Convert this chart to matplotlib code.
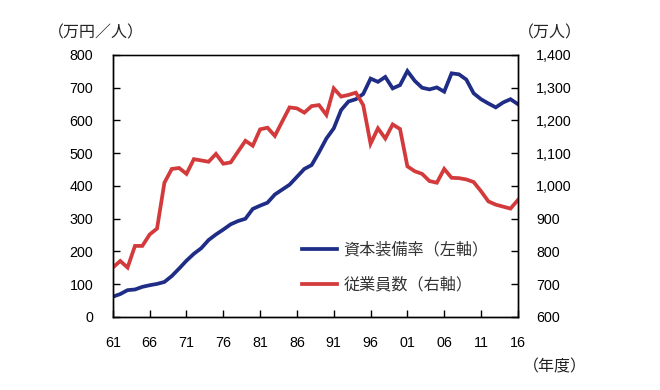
import matplotlib
matplotlib.use("Agg")
import matplotlib.pyplot as plt
from matplotlib.ticker import FixedLocator

plt.rcParams['font.family'] = ['Liberation Sans', 'Noto Sans CJK JP', 'DejaVu Sans']

years = list(range(1961, 2017))
capital_ratio = [62, 70, 82, 84, 92, 97, 101, 107, 125, 148,
                 172, 193, 210, 235, 252, 267, 283, 293, 300, 330,
                 340, 349, 374, 389, 404, 428, 452, 464, 503, 545,
                 576, 632, 658, 665, 681, 728, 718, 733, 698, 708,
                 751, 721, 700, 695, 701, 688, 744, 741, 725, 683,
                 665, 652, 640, 655, 665, 650]
employees = [751, 771, 751, 817, 817, 852, 870, 1010, 1052, 1055,
             1037, 1082, 1078, 1074, 1098, 1068, 1072, 1105, 1138, 1123,
             1173, 1178, 1153, 1197, 1240, 1237, 1224, 1244, 1247, 1217,
             1298, 1273, 1278, 1285, 1247, 1129, 1176, 1145, 1188, 1174,
             1060, 1045, 1037, 1015, 1010, 1052, 1025, 1024, 1020, 1012,
             984, 953, 943, 937, 931, 957]

xtick_years = [1961, 1966, 1971, 1976, 1981, 1986, 1991, 1996, 2001, 2006, 2011, 2016]
xtick_labels = ["61", "66", "71", "76", "81", "86", "91", "96", "01", "06", "11", "16"]
left_ticks = [0, 100, 200, 300, 400, 500, 600, 700, 800]
right_ticks = [600, 700, 800, 900, 1000, 1100, 1200, 1300, 1400]
right_labels = ["600", "700", "800", "900", "1,000", "1,100", "1,200", "1,300", "1,400"]

label_blue = "資本装備率（左軸）"
label_red = "従業員数（右軸）"

blue = "#1f2d86"
red = "#d33a3c"

fig = plt.figure(figsize=(6.6, 3.9), dpi=100)
ax = fig.add_axes([0.1710, 0.1872, 0.6136, 0.6718])
ax2 = ax.twinx()

l1, = ax.plot(years, capital_ratio, color=blue, lw=2.7, solid_joinstyle='miter', label=label_blue)
l2, = ax2.plot(years, employees, color=red, lw=2.7, solid_joinstyle='miter', label=label_red)

ax.set_xlim(1961, 2016)
ax.set_ylim(0, 800)
ax2.set_ylim(600, 1400)

ax.xaxis.set_major_locator(FixedLocator(xtick_years))
ax.set_xticklabels(xtick_labels)
ax.yaxis.set_major_locator(FixedLocator(left_ticks))
ax.set_yticklabels([str(v) for v in left_ticks])
ax2.yaxis.set_major_locator(FixedLocator(right_ticks))
ax2.set_yticklabels(right_labels)

ax.tick_params(axis='x', direction='in', length=5, width=1, pad=14, labelsize=10.3)
ax.tick_params(axis='y', direction='in', length=5, width=1, pad=14, labelsize=10.3)
ax2.tick_params(axis='y', direction='in', length=5, width=1, pad=13, labelsize=10.3)

for a in (ax, ax2):
    for s in a.spines.values():
        s.set_linewidth(1.0)
        s.set_color('black')
ax.spines['top'].set_color('#777777')

cjk = ['Noto Sans CJK JP', 'DejaVu Sans']
fig.text(0.072, 0.915, "（万円／人）", fontsize=11.5, family=cjk, ha='left', va='center', color='#222222')
fig.text(0.785, 0.915, "（万人）", fontsize=11.5, family=cjk, ha='left', va='center', color='#222222')
fig.text(0.793, 0.058, "（年度）", fontsize=11.5, family=cjk, ha='left', va='center', color='#222222')

leg = ax2.legend(handles=[l1, l2], loc='upper left', bbox_to_anchor=(0.445, 0.402),
                 bbox_transform=fig.transFigure, frameon=False, handlelength=2.2,
                 handletextpad=0.4, labelspacing=1.15, borderpad=0,
                 prop={'family': cjk, 'size': 11.6})
for t in leg.get_texts():
    t.set_color('#333333')

fig.savefig("out.png", dpi=100)
